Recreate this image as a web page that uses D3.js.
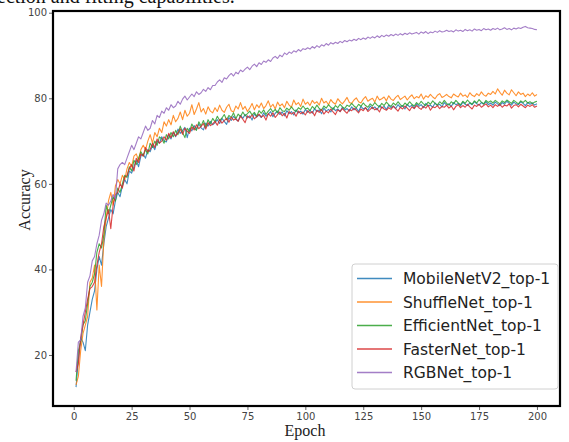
<!DOCTYPE html>
<html><head><meta charset="utf-8">
<script src="https://cdn.jsdelivr.net/npm/d3@7"></script>
<style>body{margin:0;background:#fff;overflow:hidden}svg{display:block}</style>
</head><body><svg id="c" width="569" height="442"></svg>
<script>
const seriesNames = ["MobileNetV2_top-1","ShuffleNet_top-1","EfficientNet_top-1","FasterNet_top-1","RGBNet_top-1"];
const seriesColors = ["#1f77b4","#ff7f0e","#2ca02c","#d62728","#9467bd"];
const xTicks = [0,25,50,75,100,125,150,175,200];
const yTicks = [20,40,60,80,100];

const mobileNetV2 = [12.5,19,24,23,21,27,30,33,35,40,43,41,46,50,52,54,53,56,58,57,
59.5,61,60,63,62.5,64,65.5,64,66.5,67,66,68,67.5,69,68,70,69.5,71,70,69.8,
71.5,70.5,72,71,72.8,71.8,72.5,73.2,70.8,73,72.4,73.6,72.8,74,73.1,72.6,74.2,73.5,74.6,73.8,
74.3,75,74.1,75.3,74.6,73.9,75.5,74.8,75.8,75.1,74.7,76,75.3,76.2,75.4,75.9,74.9,76.4,75.6,76.1,
75.5,76.6,75.8,76.3,76.9,75.7,76.5,77,76.2,76.8,75.9,77.1,76.4,76.9,76.1,77.3,76.6,77,76.3,77.4,
76.7,77.2,76.5,77.6,76.9,77.3,76.4,77.7,77,77.4,76.8,77.8,77.1,77.5,76.9,77.9,77.2,77.6,77,78,
77.3,77.7,76.9,78.1,77.5,77.8,77.2,78.2,77.6,78,77.3,78.3,77.7,78.1,77.4,78.4,77.8,78.2,77.6,78.5,
77.9,78.3,77.5,78.6,78,78.4,77.7,78.7,78.1,78.5,77.8,78.8,78.2,78.4,77.9,78.9,78.3,78.6,78,79,
78.4,78.7,78.1,79,78.5,78.8,78.2,79.1,78.6,78.3,78.9,78.5,79.2,78.7,78.4,79,78.6,79.2,78.5,78.9,
78.4,79.1,78.7,78.3,79,78.6,79.3,78.8,78.4,79.1,78.7,78.5,79.2,78.8,78.3,79,78.6,78.9,78.4,78.7];

const shuffleNet = [13,15,21,25,27,29,37,38,41,30.5,41,36,47,52,56,58,55,59.5,61,60,
62,61,63.5,65,64,66.5,67,65.5,68,69,68,70,71.5,69.5,72,71,73,72,74.5,73.5,
75,73.8,76,74.5,75.3,76.8,75,77.2,75.8,76.5,78.5,76.2,77.5,79,76.8,77.6,76.3,78,77,76.6,
77.8,76.9,78.4,77.2,76.7,77.9,78.6,77.1,76.8,78.2,77.5,79,77.4,78.1,76.9,77.7,78.8,77.3,78.5,77.8,
78.9,77.6,78.3,79.4,77.9,78.6,77.5,79.1,78.2,78.7,77.8,79.3,78.4,77.9,79.6,78.5,79,78.1,79.8,78.6,
79.1,78.3,79.5,78.8,79.2,78.4,80,78.9,79.3,78.5,79.7,79,78.6,79.9,79.2,78.7,79.4,80.2,79,78.8,
79.6,80.1,79.2,78.9,79.8,80.4,79.3,79.7,80,79.1,80.5,79.6,79.9,80.3,79.4,80.6,79.8,79.5,80.2,80.7,
79.7,80.1,80.5,79.6,80.3,80.8,79.9,80.4,80.1,81,79.8,80.6,80.2,80.9,80.3,79.9,80.7,81.1,80.2,80.5,
80.9,80.4,80.1,81,80.6,80.3,81.2,80.5,80.8,80.2,81.3,80.7,80.4,81.1,80.6,81.5,80.8,80.5,81.2,80.9,
81.6,81,82.2,81.4,80.7,81.9,81.2,80.8,82,81.3,80.6,81.5,80.9,81.2,80.4,81,80.6,81.3,80.5,80.9];

const efficientNet = [14,21,23,27,28,32,36,37,39,44,46,45,48,55,53,55,57,56,59,58,
60,62,61.5,64,63,65.5,64.5,66,67.5,66.5,68,67,69.5,68.5,70,69,71,70.5,69.5,71.5,
70.5,72,71,72.5,71.5,73.5,72,70.8,73,72.2,74,73,72.5,74.5,73.5,74.8,73.2,75,74,75.3,
74.5,75.8,74.8,75.4,76.2,75,76,75.5,76.6,75.2,76.3,75.7,76.8,75.9,76.4,77,76.1,76.7,75.8,77.1,
76.5,77.3,76.2,77,77.6,76.8,77.4,76.6,77.8,77.1,76.9,77.7,77.2,78,77.3,76.9,77.8,77.4,78.2,77.5,
77.7,77.1,78.1,77.5,78.4,77.6,77.2,78.2,77.7,78.5,77.9,77.4,78.3,77.8,78.6,78,77.6,78.4,78.1,78.8,
78.2,77.8,78.6,78.1,78.9,78.3,77.9,78.7,78.2,79,78.4,78,78.8,78.3,79.1,78.5,78.1,78.9,78.4,79.2,
78.5,78.1,78.9,78.4,79.2,78.6,78.2,79,78.5,79.3,78.7,78.3,79.1,78.6,79.4,78.8,78.4,79.2,78.7,79.5,
78.8,78.4,79.2,78.7,79.5,78.9,78.5,79.3,78.8,79.6,79,78.6,79.4,78.9,79.7,79.1,78.7,79.5,79,79.4,
78.9,79.5,79.1,78.7,79.4,79,79.6,79.2,78.8,79.5,79.1,78.7,79.4,79,79.5,78.9,79.2,78.8,79.1,79.3];

const fasterNet = [16,18,24,27,30,33,35.5,36,37,41,44,46,50,52,54,49.5,55,57.5,58,60,
59,61.5,62,63.5,64.5,63,66,65,67,66.5,68.5,67.5,68,69.5,68.5,70.5,69.5,70,71,70.2,
71.8,70.8,72.2,71.2,71.9,72.8,71.6,73,72.3,71.8,73.3,72.6,73.8,72.9,73.4,74.1,72.8,74.3,73.6,74,
74.6,73.7,75,74.2,74.8,75.3,74.4,75.6,74.9,75.2,74.6,75.8,75.1,74.3,75.9,75.4,76.1,75.2,75.7,76.3,
75.6,76,74.9,76.4,75.8,76.6,75.5,76.2,76.8,75.9,76.5,75.4,76.9,76.3,76.7,75.8,77,76.4,76.8,76.1,
77.1,76.5,76.9,75.9,77.2,76.7,77.4,76.3,77,76.6,77.5,76.8,76.2,77.3,76.9,77.6,77,76.5,77.4,77.1,
77.7,77.2,76.6,77.5,77.1,77.8,76.9,77.4,77.9,77.3,77.6,76.8,78,77.5,77.2,77.8,77.4,78.1,77.6,77,
77.9,77.5,78.2,77.7,77.1,78,77.6,78.3,77.8,77.4,78.1,77.7,78.4,77.2,78,77.8,78.3,77.6,78.1,77.9,
78.4,77.7,78.2,77.3,78.1,78.5,77.8,78.3,77.9,78.6,78,77.5,78.4,78.1,78.6,77.9,78.3,78.7,78,78.4,
77.8,78.5,78.1,78.6,77.9,78.4,78.2,78.7,77.7,78.3,78.5,78,78.6,78.2,77.8,78.4,78.1,78.5,77.9,78.2];

const rgbNet = [16,23,23.5,29,31,37,38.5,42,43,46,48,51.5,53,55.5,55,56,57.5,56.5,63.5,64.5,
65,64.5,66,67.5,69,68,69.5,71,70.5,72,73.5,72.5,73,74.8,74,76,75.5,77,76.5,77.8,
77.2,78.5,77.8,78.2,79.3,78.6,79.8,80.5,79.6,80.3,81,80.4,81.5,80.9,81.3,82.1,81.6,82.5,82,83,
83,83.8,84.3,83.7,84.8,84.5,85.3,85.8,85.2,86.1,85.7,86.6,86.2,86.8,87.3,86.7,87.5,88,87.4,88.3,
87.9,88.7,88.4,89,88.6,89.4,89.8,89.3,90.1,89.7,90.6,90.2,90.8,90.5,91.1,90.8,91.4,91,91.6,91.4,
91.8,91.5,92.1,91.7,92.3,91.9,92.5,92.2,92.8,92.4,93,92.7,93.1,92.8,93.3,93,93.5,93.2,93.6,93.4,
93.8,93.5,94,93.7,94.1,93.8,94.3,94,94.4,94.1,94.6,94.2,94.7,94.4,94.8,94.5,94.9,94.6,95,94.7,
95.1,94.8,95.2,94.9,95.3,95,95.2,95.4,95,95.5,95.2,95.6,95.1,95.5,95.3,95.7,95.4,95.8,95.5,95.6,
95.9,95.6,95.8,95.5,96,95.7,95.9,95.6,96.1,95.8,96,95.7,96.2,95.9,96.1,95.8,96.3,96,96.2,95.9,
96.3,96.1,96.4,96,96.2,96.5,96.1,96.3,96,96.4,96.2,96.5,96.3,96.6,96.8,96.5,96.4,96.3,96.1,96];

const allSeries = [mobileNetV2, shuffleNet, efficientNet, fasterNet, rgbNet];

const svg = d3.select("#c");
const L = 53, R = 560, T = 11, B = 406;
const x = d3.scaleLinear().domain([-8.95, 209.95]).range([L, R]);
const y = d3.scaleLinear().domain([8.08, 100.4]).range([B, T]);

// caption text from the page above, partly cut off by the top edge as in the reference
svg.append("text").attr("x", -3).attr("y", 3)
  .attr("font-family", "'Liberation Serif', serif").attr("font-size", 20)
  .attr("fill", "#111").text("ection and fitting capabilities.");

svg.append("defs").append("clipPath").attr("id","pc")
  .append("rect").attr("x", L).attr("y", T).attr("width", R-L).attr("height", B-T);

const line = d3.line().x((d,i)=>x(i+1)).y(d=>y(d));
const g = svg.append("g").attr("clip-path","url(#pc)");
allSeries.forEach((s,k)=>{
  g.append("path").datum(s).attr("d", line).attr("fill","none")
    .attr("stroke", seriesColors[k]).attr("stroke-width", 1.1)
    .attr("stroke-opacity", 0.85).attr("stroke-linejoin","round");
});

// axes
const xAxis = d3.axisBottom(x).tickValues(xTicks).tickSize(4).tickPadding(3);
const yAxis = d3.axisLeft(y).tickValues(yTicks).tickSize(4).tickPadding(2);
const gx = svg.append("g").attr("transform", `translate(0,${B})`).call(xAxis);
const gy = svg.append("g").attr("transform", `translate(${L},0)`).call(yAxis);
[gx, gy].forEach(a=>{
  a.select(".domain").remove();
  a.selectAll(".tick line").attr("stroke","#555").attr("stroke-width",0.9);
  a.selectAll(".tick text").attr("fill","#444").attr("font-family","'DejaVu Sans', sans-serif").attr("font-size",10);
});

// frame
svg.append("rect").attr("x", L).attr("y", T).attr("width", R-L).attr("height", B-T)
  .attr("fill","none").attr("stroke","#000").attr("stroke-width",2.2);

// axis labels
svg.append("text").attr("x", 305).attr("y", 436).attr("text-anchor","middle")
  .attr("font-family","'Liberation Serif', serif").attr("font-size",16).attr("fill","#222").text("Epoch");
svg.append("text").attr("transform","translate(30,200) rotate(-90)").attr("text-anchor","middle")
  .attr("font-family","'Liberation Serif', serif").attr("font-size",16).attr("fill","#222").text("Accuracy");

// legend
const lg = svg.append("g");
lg.append("rect").attr("x",352).attr("y",264).attr("width",206).attr("height",125).attr("rx",3)
  .attr("fill","#fff").attr("fill-opacity",0.85).attr("stroke","#d0d0d0").attr("stroke-width",1);
seriesNames.forEach((n,k)=>{
  const yy = 278.5 + k*23.5;
  lg.append("line").attr("x1",357).attr("x2",392).attr("y1",yy).attr("y2",yy)
    .attr("stroke",seriesColors[k]).attr("stroke-width",1.5).attr("stroke-opacity",0.85);
  lg.append("text").attr("x",403).attr("y",yy+5.5).attr("font-family","'DejaVu Sans', sans-serif")
    .attr("font-size",15.5).attr("fill","#222").text(n);
});
</script></body></html>
